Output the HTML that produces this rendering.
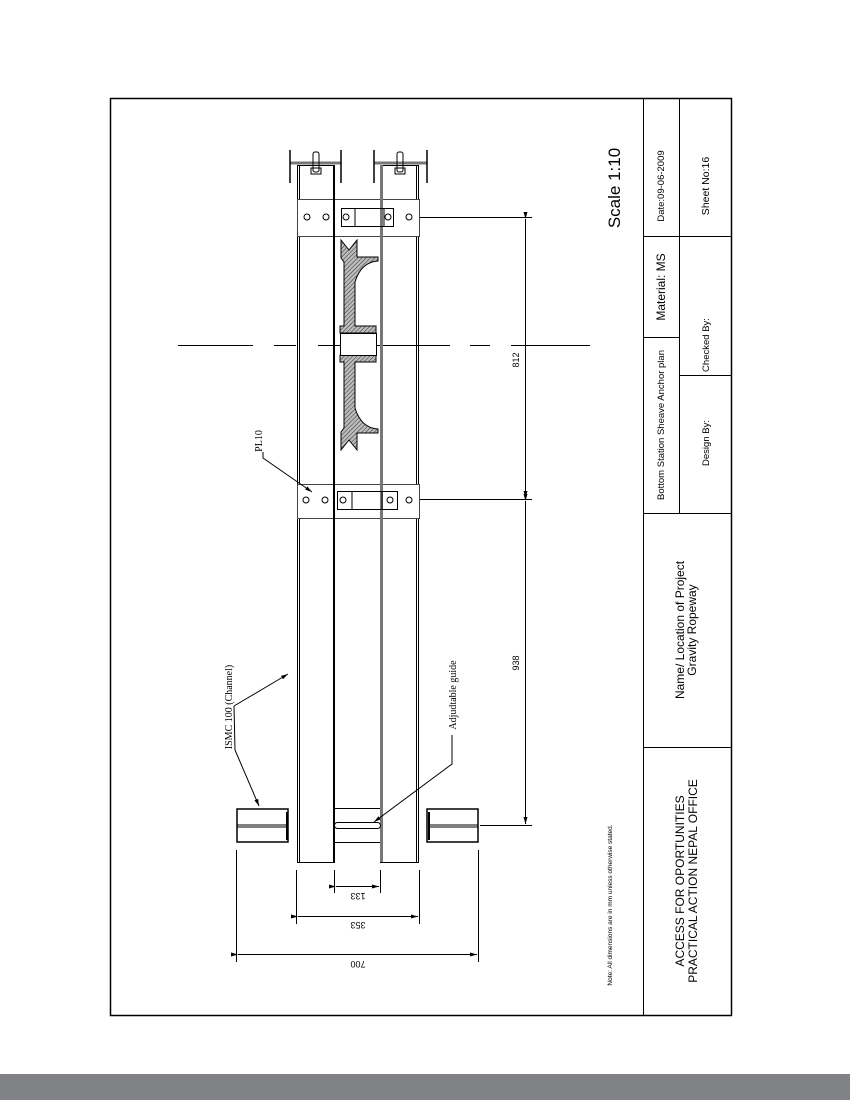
<!DOCTYPE html>
<html><head><style>
html,body{margin:0;padding:0;background:#fff;width:850px;height:1100px;overflow:hidden}
svg{display:block}
text{font-family:"Liberation Sans",sans-serif;fill:#000}
.s{font-family:"Liberation Serif",serif}
</style></head><body>
<svg width="850" height="1100" viewBox="0 0 850 1100">
<defs>
<pattern id="h" width="3" height="3" patternUnits="userSpaceOnUse" patternTransform="rotate(45)">
<rect width="3" height="3" fill="#bbb"/><line x1="0" y1="0" x2="0" y2="3" stroke="#333" stroke-width="1"/>
</pattern>
<marker id="a" markerUnits="userSpaceOnUse" markerWidth="7" markerHeight="4" refX="7" refY="2" orient="auto"><path d="M0,0 L7,2 L0,4z" fill="#000"/></marker>
</defs>
<rect x="0" y="1074" width="850" height="26" fill="#808285"/>
<rect x="110.5" y="98.5" width="621" height="917" fill="none" stroke="#000" stroke-width="1.5"/>
<!-- title block -->
<g stroke="#000" stroke-width="1">
<line x1="643.5" y1="98" x2="643.5" y2="1015"/>
<line x1="679.5" y1="98" x2="679.5" y2="513"/>
<line x1="643" y1="236.5" x2="731" y2="236.5"/>
<line x1="643" y1="337.5" x2="679" y2="337.5"/>
<line x1="679" y1="375.5" x2="731" y2="375.5"/>
<line x1="643" y1="513.5" x2="731" y2="513.5"/>
<line x1="643" y1="747.5" x2="731" y2="747.5"/>
</g>
<g font-size="11">
<text transform="translate(664,186) rotate(-90)" text-anchor="middle" font-size="9.5">Date:09-06-2009</text>
<text transform="translate(709,186) rotate(-90)" text-anchor="middle" font-size="10.5">Sheet No:16</text>
<text transform="translate(665,287) rotate(-90)" text-anchor="middle" font-size="12">Material: MS</text>
<text transform="translate(709,345) rotate(-90)" text-anchor="middle" font-size="9.5">Checked By:</text>
<text transform="translate(664,425) rotate(-90)" text-anchor="middle" font-size="9.5">Bottom Station Sheave Anchor plan</text>
<text transform="translate(709,443) rotate(-90)" text-anchor="middle" font-size="9.5">Design By:</text>
<text transform="translate(684,630) rotate(-90)" text-anchor="middle" font-size="12">Name/ Location of Project</text>
<text transform="translate(696,630) rotate(-90)" text-anchor="middle" font-size="12">Gravity Ropeway</text>
<text transform="translate(684,881) rotate(-90)" text-anchor="middle" font-size="12">ACCESS FOR OPORTUNITIES</text>
<text transform="translate(697,881) rotate(-90)" text-anchor="middle" font-size="12">PRACTICAL ACTION NEPAL OFFICE</text>
<text transform="translate(620,188) rotate(-90)" text-anchor="middle" font-size="17">Scale 1:10</text>
<text transform="translate(612,905) rotate(-90)" text-anchor="middle" font-size="6.5">Note: All dimensions are in mm unless otherwise stated.</text>
</g>
<!-- centerline -->
<g stroke="#000" stroke-width="1">
<line x1="178" y1="345.5" x2="253" y2="345.5"/><line x1="274" y1="345.5" x2="296" y2="345.5"/>
<line x1="318" y1="345.5" x2="450" y2="345.5"/><line x1="470" y1="345.5" x2="490" y2="345.5"/>
<line x1="511" y1="345.5" x2="590" y2="345.5"/>
</g>
<!-- channels -->
<g fill="none" stroke="#000">
<rect x="297.5" y="165.5" width="37" height="697" stroke-width="1"/>
<line x1="299.5" y1="165" x2="299.5" y2="862"/>
<line x1="334" y1="165" x2="334" y2="862" stroke-width="2"/>
<rect x="380.5" y="165.5" width="38" height="697" stroke-width="1"/>
<line x1="381.5" y1="165" x2="381.5" y2="862" stroke="#777" stroke-width="3"/>
<line x1="416.5" y1="165" x2="416.5" y2="862"/>
</g>
<!-- top beams -->
<g stroke="#000" stroke-width="1.5" fill="none">
<line x1="290" y1="163" x2="341" y2="163" stroke="#777" stroke-width="3"/>
<line x1="374" y1="163" x2="427" y2="163" stroke="#777" stroke-width="3"/>
<line x1="290" y1="150" x2="290" y2="183"/><line x1="341" y1="150" x2="341" y2="183"/>
<line x1="374" y1="150" x2="374" y2="183"/><line x1="427" y1="150" x2="427" y2="183"/>
<rect x="313" y="152" width="6" height="20" rx="2" stroke-width="1"/>
<rect x="311" y="168" width="10" height="6" stroke-width="1"/>
<rect x="397" y="152" width="6" height="20" rx="2" stroke-width="1"/>
<rect x="395" y="168" width="10" height="6" stroke-width="1"/>
</g>
<!-- plates -->
<g fill="#fff" stroke="#444" stroke-width="1">
<rect x="297.5" y="199.5" width="122" height="37"/>
<rect x="297.5" y="484.5" width="122" height="34"/>
</g>
<g fill="none" stroke="#000" stroke-width="1">
<line x1="334" y1="199" x2="334" y2="237" stroke-width="2"/><line x1="381.5" y1="199" x2="381.5" y2="237" stroke="#777" stroke-width="3"/>
<line x1="334" y1="484" x2="334" y2="519" stroke-width="2"/><line x1="381.5" y1="484" x2="381.5" y2="519" stroke="#777" stroke-width="3"/>
<circle cx="307" cy="217" r="3"/><circle cx="326" cy="217" r="3"/><circle cx="346" cy="217" r="3"/><circle cx="388" cy="217" r="3"/><circle cx="409" cy="217" r="3"/>
<rect x="341.5" y="208.5" width="52" height="18"/><line x1="355" y1="208" x2="355" y2="227"/><line x1="384" y1="208" x2="384" y2="227"/>
<circle cx="306" cy="500" r="3"/><circle cx="325" cy="500" r="3"/><circle cx="343" cy="500" r="3"/><circle cx="390" cy="500" r="3"/><circle cx="409" cy="500" r="3"/>
<rect x="337.5" y="491.5" width="60" height="18"/><line x1="352" y1="491" x2="352" y2="510"/><line x1="382" y1="491" x2="382" y2="510"/>
</g>
<!-- sheave -->
<g fill="url(#h)" stroke="#000" stroke-width="1">
<path d="M341,240 L349,250 L357,240 L357,257 L378,257 L378,261 Q361,262 355,282 L355,326 L376,326 L376,333 L340,333 L340,326 L344,326 L344,262 L341,258 Z"/>
<path d="M341,450 L349,440 L357,450 L357,433 L378,433 L378,429 Q361,428 355,408 L355,362 L376,362 L376,355 L340,355 L340,362 L344,362 L344,428 L341,432 Z"/>
</g>
<rect x="340.5" y="333.5" width="36" height="22" fill="#fff" stroke="#000"/>
<!-- bottom cross channels -->
<g fill="#fff" stroke="#000" stroke-width="1.5">
<rect x="237" y="809" width="51" height="33"/>
<rect x="427" y="809" width="51" height="33"/>
</g>
<g stroke="#000" stroke-width="1" fill="none">
<line x1="237" y1="825" x2="287" y2="825"/><line x1="237" y1="827" x2="287" y2="827"/>
<line x1="287" y1="812" x2="287" y2="840" stroke-width="2"/>
<line x1="428" y1="825" x2="478" y2="825"/><line x1="428" y1="827" x2="478" y2="827"/>
<line x1="429" y1="812" x2="429" y2="840" stroke-width="2"/>
<line x1="335" y1="808.5" x2="380" y2="808.5"/><line x1="335" y1="842.5" x2="380" y2="842.5"/>
<rect x="334.5" y="822.5" width="46" height="6" rx="3"/>
</g>
<!-- dimensions -->
<g stroke="#000" stroke-width="1" fill="none">
<line x1="420" y1="217.5" x2="532" y2="217.5"/>
<line x1="420" y1="499.5" x2="532" y2="499.5"/>
<line x1="480" y1="825.5" x2="532" y2="825.5"/>
<line x1="525.5" y1="219" x2="525.5" y2="498" marker-start="url(#a)" marker-end="url(#a)"/>
<line x1="525.5" y1="501" x2="525.5" y2="824" marker-start="url(#a)" marker-end="url(#a)"/>
<line x1="334.5" y1="870" x2="334.5" y2="893"/><line x1="380.5" y1="870" x2="380.5" y2="893"/>
<line x1="336" y1="886.5" x2="379" y2="886.5" marker-start="url(#a)" marker-end="url(#a)"/>
<line x1="296.5" y1="870" x2="296.5" y2="924"/><line x1="419.5" y1="870" x2="419.5" y2="924"/>
<line x1="298" y1="916.5" x2="418" y2="916.5" marker-start="url(#a)" marker-end="url(#a)"/>
<line x1="236.5" y1="850" x2="236.5" y2="962"/><line x1="478.5" y1="850" x2="478.5" y2="962"/>
<line x1="238" y1="954.5" x2="477" y2="954.5" marker-start="url(#a)" marker-end="url(#a)"/>
</g>
<g font-size="9">
<text transform="translate(519,360) rotate(-90)" text-anchor="middle">812</text>
<text transform="translate(519,663) rotate(-90)" text-anchor="middle">938</text>
<text transform="translate(358,893) rotate(180)" text-anchor="middle">133</text>
<text transform="translate(358,922) rotate(180)" text-anchor="middle">353</text>
<text transform="translate(358,961) rotate(180)" text-anchor="middle">700</text>
</g>
<!-- leaders -->
<g stroke="#000" stroke-width="1" fill="none">
<polyline points="234,706 288,674" marker-end="url(#a)"/>
<polyline points="234,706 235,750 259,806" marker-end="url(#a)"/>
<polyline points="452,735 452,764 374,822" marker-end="url(#a)"/>
<polyline points="263,452 263,458 312,492" marker-end="url(#a)"/>
</g>
<text class="s" transform="translate(232,707) rotate(-90)" text-anchor="middle" font-size="10">ISMC 100 (Channel)</text>
<text class="s" transform="translate(456,695) rotate(-90)" text-anchor="middle" font-size="10">Adjudtable guide</text>
<text class="s" transform="translate(262,441) rotate(-90)" text-anchor="middle" font-size="10">PL10</text>
</svg>
</body></html>
